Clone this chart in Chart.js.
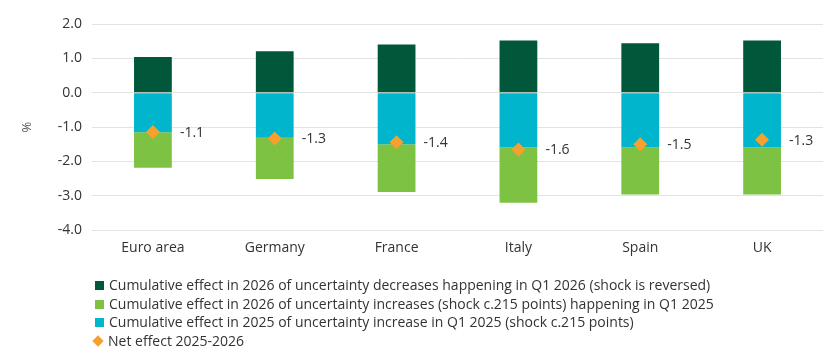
<!DOCTYPE html>
<html>
<head>
<meta charset="utf-8">
<script src="https://cdn.jsdelivr.net/npm/chart.js@4"></script>
<style>
  html, body { margin: 0; padding: 0; background: #fff; }
  #wrap { position: relative; width: 835px; height: 359px; }
  #legend {
    position: absolute; left: 92px; top: 276px;
    font: 14px 'Open Sans', sans-serif; color: #333;
  }
  #legend .row { height: 18.7px; line-height: 18.7px; white-space: nowrap; display: flex; align-items: center; }
  #legend .box { width: 9px; height: 9px; margin: 0 5px 0 3px; flex: none; }
  #legend .dia { width: 8px; height: 8px; margin: 0 6px 0 2px; transform: rotate(45deg); flex: none; }
</style>
</head>
<body>
<div id="wrap"><canvas id="myChart"></canvas><div id="legend"></div></div>
<script>
const categories = ["Euro area", "Germany", "France", "Italy", "Spain", "UK"];
const reversed2026 = [1.04, 1.21, 1.40, 1.52, 1.44, 1.52];
const increase2026 = [-1.03, -1.20, -1.39, -1.61, -1.37, -1.37];
const increase2025 = [-1.15, -1.31, -1.50, -1.59, -1.59, -1.59];
const netEffect = [-1.14, -1.33, -1.44, -1.65, -1.50, -1.37];
const netLabels = ["-1.1", "-1.3", "-1.4", "-1.6", "-1.5", "-1.3"];
const yTicks = [2, 1, 0, -1, -2, -3, -4];

Chart.defaults.font.family = "'Open Sans', sans-serif";
Chart.defaults.color = "#333";

// writes the net value to the right of each diamond
const netLabelPlugin = {
    id: "netLabels",
    afterDatasetsDraw(chart) {
        const meta = chart.getDatasetMeta(3);
        const ctx = chart.ctx;
        ctx.save();
        ctx.font = "14px 'Open Sans', sans-serif";
        ctx.fillStyle = "#333";
        ctx.textBaseline = "middle";
        meta.data.forEach((pt, i) => {
            ctx.fillText(netLabels[i], pt.x + 27, pt.y + 1);
        });
        ctx.restore();
    },
};

const ctx = document.getElementById("myChart");

const chart = new Chart(ctx, {
    type: "bar",
    data: {
        labels: categories,
        datasets: [
            {
                label: "Cumulative effect in 2026 of uncertainty decreases happening in Q1 2026 (shock is reversed)",
                data: reversed2026,
                backgroundColor: "#00573a",
                stack: "s",
                order: 3,
            },
            {
                label: "Cumulative effect in 2026 of uncertainty increases (shock c.215 points) happening in Q1 2025",
                data: increase2026,
                backgroundColor: "#7dc242",
                stack: "s",
                order: 2,
            },
            {
                label: "Cumulative effect in 2025 of uncertainty increase in Q1 2025 (shock c.215 points)",
                data: increase2025,
                backgroundColor: "#00b5cc",
                stack: "s",
                order: 1,
            },
            {
                type: "line",
                label: "Net effect 2025-2026",
                data: netEffect,
                showLine: false,
                pointStyle: "rectRot",
                pointRadius: 7,
                pointHoverRadius: 7,
                backgroundColor: "#f6a02d",
                borderColor: "#f6a02d",
                borderWidth: 0,
                stack: "net",
                order: 0,
            },
        ],
    },
    options: {
        responsive: true,
        maintainAspectRatio: false,
        animation: false,
        layout: {
            padding: { left: 0, right: 12, top: 24, bottom: 94 },
        },
        datasets: {
            bar: {
                barPercentage: 0.31,
                categoryPercentage: 1,
            },
        },
        plugins: {
            tooltip: { enabled: false },
            legend: { display: false },
        },
        scales: {
            x: {
                stacked: true,
                grid: { display: false, drawTicks: false },
                border: { display: false },
                ticks: { font: { size: 14 }, color: "#333", padding: 9 },
            },
            y: {
                stacked: true,
                min: -4,
                max: 2,
                afterFit(scale) {
                    scale.width = 92;
                },
                afterBuildTicks(scale) {
                    scale.ticks = yTicks.map((v) => ({ value: v }));
                },
                grid: { color: "#e3e3e3", drawTicks: false },
                border: { display: false },
                ticks: {
                    font: { size: 14 },
                    color: "#333",
                    padding: 10,
                    callback: (v) => Number(v).toFixed(1),
                },
                title: {
                    display: true,
                    text: "%",
                    font: { size: 13 },
                    color: "#555",
                    padding: { top: 19, bottom: 0 },
                },
            },
        },
    },
    plugins: [netLabelPlugin],
});

// legend as html rows, one per dataset, in dataset order
const legendEl = document.getElementById("legend");
chart.data.datasets.forEach((ds, i) => {
    const row = document.createElement("div");
    row.className = "row";
    const mark = document.createElement("span");
    mark.className = ds.type === "line" ? "dia" : "box";
    mark.style.background = ds.backgroundColor;
    const txt = document.createElement("span");
    txt.textContent = ds.label;
    row.appendChild(mark);
    row.appendChild(txt);
    legendEl.appendChild(row);
});
</script>
</body>
</html>
